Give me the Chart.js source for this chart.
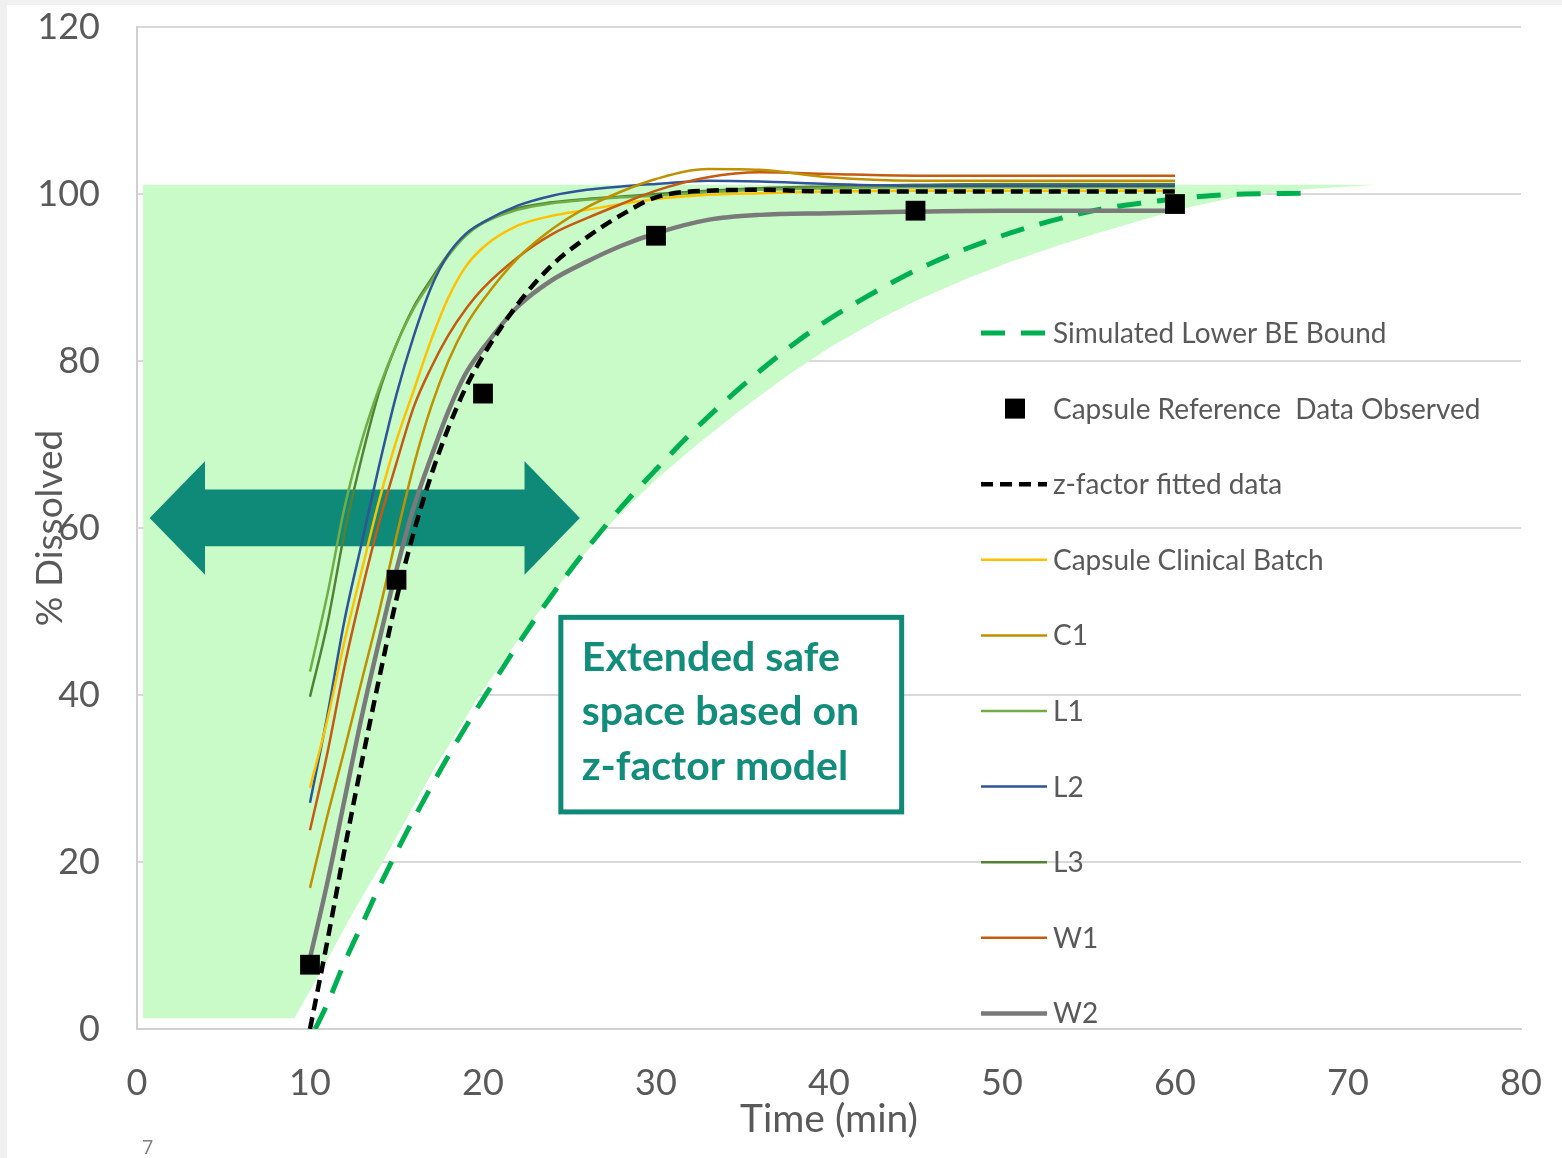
<!DOCTYPE html>
<html>
<head>
<meta charset="utf-8">
<script src="https://cdn.jsdelivr.net/npm/chart.js@4.4.1/dist/chart.umd.min.js"></script>
<style>
    html, body { margin: 0; padding: 0; background: #f0f0f0; }
    #page { position: absolute; left: 7px; top: 5px; width: 1555px; height: 1153px; background: #fff; }
    #myChart { position: absolute; left: 0; top: 0; }
    #pageNo { position: absolute; left: 142px; top: 1133px; font: 20px 'Open Sans', sans-serif; color: #7f7f7f; }
</style>
</head>
<body>
<div id="page"></div>
<canvas id="myChart" width="1562" height="1158"></canvas>
<div id="pageNo">7</div>
<script>
// time points (min) used by the batch curves
const batchTimes = [10, 11, 12, 13, 14, 15, 16, 17, 18, 19, 20, 22, 24, 26, 28, 30, 33, 36, 40, 45, 50, 55, 60];

const clinicalBatch = [28.9, 37, 46.5, 55, 63.3, 70.5, 76.5, 82.5, 87.6, 91.3, 93.6, 96.2, 97.4, 98.1, 98.8, 99.4, 99.9, 100.1, 100.3, 100.4, 100.4, 100.4, 100.4];
const c1 = [16.9, 25.5, 33.5, 41.8, 50, 59, 67.5, 74.5, 80, 84.2, 87.3, 92.3, 95.8, 98.4, 100.3, 101.8, 103, 102.9, 102, 101.6, 101.6, 101.6, 101.6];
const l1 = [42.8, 52, 62.5, 70.5, 76.8, 82, 86.3, 89.5, 92.6, 95, 96.5, 98.1, 98.9, 99.3, 99.6, 99.8, 100.2, 100.5, 100.7, 100.8, 100.8, 100.8, 100.8];
const l2 = [27.1, 37.5, 49, 58.3, 67.5, 76, 83, 88.8, 92.8, 95.2, 96.6, 98.6, 99.8, 100.5, 100.9, 101.2, 101.6, 101.5, 101.2, 101, 101, 101, 101];
const l3 = [39.8, 48.5, 59.5, 68.5, 76.3, 82, 86.5, 89.8, 92.8, 95.2, 96.6, 98.3, 99, 99.4, 99.7, 100, 100.4, 100.7, 100.9, 101.1, 101.2, 101.2, 101.2];
const w1 = [23.8, 33, 43.5, 52.5, 60.7, 67.8, 74.5, 79.2, 83.1, 86.2, 88.7, 92.4, 95.2, 97.1, 98.8, 100.4, 102, 102.6, 102.4, 102.2, 102.2, 102.2, 102.2];
const w2 = [8.5, 17.5, 27.5, 37.5, 46.5, 55, 62.5, 68.5, 74, 78.5, 81.5, 86.5, 89.7, 91.9, 93.8, 95.3, 96.9, 97.5, 97.7, 97.9, 98, 98, 98];
const zFactor = [0, 10.5, 21.5, 32, 42, 51.5, 59.5, 66.3, 72, 76.8, 80.6, 86.8, 91.5, 94.8, 97.5, 99.6, 100.4, 100.5, 100.3, 100.3, 100.3, 100.3, 100.3];

// observed reference capsule
const observedTimes = [10, 15, 20, 30, 45, 60];
const observedValues = [7.7, 53.8, 76.1, 95.0, 98.0, 98.8];

// simulated lower BE bound
const lowerBoundTimes = [10.3, 11, 12, 13, 14, 15, 16, 17, 18, 19, 20, 22, 24, 26, 28, 30, 32, 34, 36, 38, 40, 42, 44, 46, 48, 50, 52, 54, 56, 58, 60, 62, 64, 67.8];
const lowerBoundValues = [0, 3, 8, 12.5, 17, 21.2, 25.2, 29, 32.7, 36.2, 39.5, 46, 52, 57.5, 62.5, 67, 71.3, 75.2, 78.8, 82.1, 85, 87.5, 89.8, 91.8, 93.5, 95, 96.3, 97.4, 98.3, 98.9, 99.4, 99.8, 100, 100.1];

// outline of the extended safe space (closed shape)
const safeSpaceTimes = [0.35, 9.1, 11, 12.5, 14.2, 17, 19.8, 22.5, 25, 27.5, 30, 32.5, 35, 37.7, 40, 42.9, 45, 48, 50.5, 53.2, 55.5, 58.3, 61, 63.5, 67, 71.7, 0.35];
const safeSpaceValues = [1.3, 1.3, 8.3, 14, 20, 30.5, 40, 48, 54.8, 60.8, 65.8, 70.2, 74.3, 78.4, 81.6, 85, 87.2, 89.9, 91.9, 93.8, 95.3, 97, 98.5, 99.6, 100.5, 101.1, 101.1];

const xTicks = [0, 10, 20, 30, 40, 50, 60, 70, 80];
const yTicks = [0, 20, 40, 60, 80, 100, 120];

const legendOrder = ['Simulated Lower BE Bound', 'Capsule Reference  Data Observed', 'z-factor fitted data',
    'Capsule Clinical Batch', 'C1', 'L1', 'L2', 'L3', 'W1', 'W2'];

const TEAL = '#0f8a78';
const TEXT_GREY = '#595959';
const FONT = 'Lato, "Open Sans", sans-serif';

const toPoints = (xs, ys) => xs.map((x, i) => ({x: x, y: ys[i]}));

const curve = (label, values, color, width, order, dash) => ({
    label: label,
    data: toPoints(batchTimes, values),
    borderColor: color,
    backgroundColor: color,
    borderWidth: width,
    borderDash: dash || [],
    pointRadius: 0,
    cubicInterpolationMode: 'monotone',
    fill: false,
    order: order
});

// arrow sits right on top of the green area, under the curves
const arrowPlugin = {
    id: 'arrow',
    afterDatasetDraw(chart, args) {
        if (args.meta._dataset.label !== 'safe space') return;
        const xs = chart.scales.x, ys = chart.scales.y;
        const cy = ys.getPixelForValue(61.2);
        const shaft = ys.getPixelForValue(0) - ys.getPixelForValue(3.4);
        const head = ys.getPixelForValue(0) - ys.getPixelForValue(6.8);
        const l = xs.getPixelForValue(0.73), lb = xs.getPixelForValue(3.93);
        const r = xs.getPixelForValue(25.6), rb = xs.getPixelForValue(22.4);
        const ctx = chart.ctx;
        ctx.save();
        ctx.fillStyle = TEAL;
        ctx.beginPath();
        ctx.moveTo(l, cy);
        ctx.lineTo(lb, cy - head);
        ctx.lineTo(lb, cy - shaft);
        ctx.lineTo(rb, cy - shaft);
        ctx.lineTo(rb, cy - head);
        ctx.lineTo(r, cy);
        ctx.lineTo(rb, cy + head);
        ctx.lineTo(rb, cy + shaft);
        ctx.lineTo(lb, cy + shaft);
        ctx.lineTo(lb, cy + head);
        ctx.closePath();
        ctx.fill();
        ctx.restore();
    }
};

const noteAndLegendPlugin = {
    id: 'noteAndLegend',
    afterDraw(chart) {
        const ctx = chart.ctx;
        const xs = chart.scales.x, ys = chart.scales.y;
        ctx.save();

        // text box
        const bx = xs.getPixelForValue(24.5), by = ys.getPixelForValue(49.3);
        const bw = xs.getPixelForValue(44.2) - bx, bh = ys.getPixelForValue(26) - by;
        ctx.fillStyle = '#fff';
        ctx.fillRect(bx, by, bw, bh);
        ctx.strokeStyle = TEAL;
        ctx.lineWidth = 5;
        ctx.strokeRect(bx, by, bw, bh);
        ctx.fillStyle = '#128c7b';
        ctx.font = 'bold 41px ' + FONT;
        ctx.textBaseline = 'middle';
        ['Extended safe', 'space based on', 'z-factor model'].forEach((t, i) => {
            ctx.fillText(t, bx + 21, by + 40 + i * 54.5);
        });

        // legend
        ctx.font = '28px ' + FONT;
        legendOrder.forEach((label, i) => {
            const ds = chart.data.datasets.find(d => d.label === label);
            const y = 333 + i * 75.6;
            if (ds.showLine === false) {
                ctx.fillStyle = ds.pointBackgroundColor;
                ctx.fillRect(1005, y - 10, 20, 20);
            } else {
                ctx.strokeStyle = ds.borderColor;
                ctx.lineWidth = ds.borderWidth;
                ctx.setLineDash(ds.borderDash);
                ctx.beginPath();
                ctx.moveTo(981, y);
                ctx.lineTo(1047, y);
                ctx.stroke();
                ctx.setLineDash([]);
            }
            ctx.fillStyle = TEXT_GREY;
            ctx.fillText(label, 1053, y + 1);
        });
        ctx.restore();
    }
};

const renderChart = () => {
    const ctx = document.getElementById('myChart').getContext('2d');
    new Chart(ctx, {
        type: 'line',
        data: {
            datasets: [
                {
                    label: 'Capsule Reference  Data Observed',
                    data: toPoints(observedTimes, observedValues),
                    showLine: false,
                    pointStyle: 'rect',
                    pointRadius: 14,
                    pointBackgroundColor: '#000',
                    pointBorderWidth: 0,
                    order: 0
                },
                curve('z-factor fitted data', zFactor, '#000', 4.5, 1, [12, 7]),
                curve('W2', w2, '#7a7a7a', 4.5, 2),
                curve('C1', c1, '#bf9000', 2.5, 3),
                curve('W1', w1, '#c55a11', 2.5, 4),
                curve('Capsule Clinical Batch', clinicalBatch, '#ffc000', 2.5, 5),
                curve('L2', l2, '#2f5597', 2.5, 6),
                curve('L1', l1, '#70ad47', 2.5, 7),
                curve('L3', l3, '#548235', 2.5, 8),
                {
                    label: 'Simulated Lower BE Bound',
                    data: toPoints(lowerBoundTimes, lowerBoundValues),
                    borderColor: '#00b050',
                    borderWidth: 5,
                    borderDash: [24, 16],
                    pointRadius: 0,
                    cubicInterpolationMode: 'monotone',
                    fill: false,
                    order: 9
                },
                {
                    label: 'safe space',
                    data: toPoints(safeSpaceTimes, safeSpaceValues),
                    borderWidth: 0,
                    borderColor: 'rgba(0,0,0,0)',
                    backgroundColor: '#c8fbc8',
                    pointRadius: 0,
                    tension: 0,
                    fill: 'shape',
                    order: 10
                }
            ]
        },
        options: {
            responsive: false,
            animation: false,
            layout: { padding: { left: 0, top: 27, right: 41, bottom: 0 } },
            plugins: {
                legend: { display: false },
                tooltip: { enabled: false }
            },
            scales: {
                x: {
                    type: 'linear',
                    min: 0,
                    max: 80,
                    afterBuildTicks: scale => { scale.ticks = xTicks.map(v => ({value: v})); },
                    afterFit: scale => {
                        scale.height = 129;
                        scale.paddingLeft = 0;
                        scale.paddingRight = 0;
                    },
                    grid: { display: false, drawTicks: false },
                    border: { display: true, color: '#d0d0d0', width: 2 },
                    ticks: { color: TEXT_GREY, font: { family: FONT, size: 36 }, padding: 33, maxRotation: 0 },
                    title: {
                        display: true,
                        text: 'Time (min)',
                        color: TEXT_GREY,
                        font: { family: FONT, size: 39 },
                        padding: { top: 0, bottom: 15 }
                    }
                },
                y: {
                    min: 0,
                    max: 120,
                    z: 1,
                    afterBuildTicks: scale => { scale.ticks = yTicks.map(v => ({value: v})); },
                    afterFit: scale => {
                        scale.width = 137;
                        scale.paddingTop = 0;
                        scale.paddingBottom = 0;
                    },
                    grid: { color: '#d9d9d9', lineWidth: 2, drawTicks: false },
                    border: { display: true, color: '#d0d0d0', width: 2 },
                    ticks: { color: TEXT_GREY, font: { family: FONT, size: 36 }, padding: 37 },
                    title: {
                        display: true,
                        text: '% Dissolved',
                        color: TEXT_GREY,
                        font: { family: FONT, size: 37 },
                        padding: { top: 28, bottom: 0 }
                    }
                }
            }
        },
        plugins: [arrowPlugin, noteAndLegendPlugin]
    });
};

renderChart();
</script>
</body>
</html>
